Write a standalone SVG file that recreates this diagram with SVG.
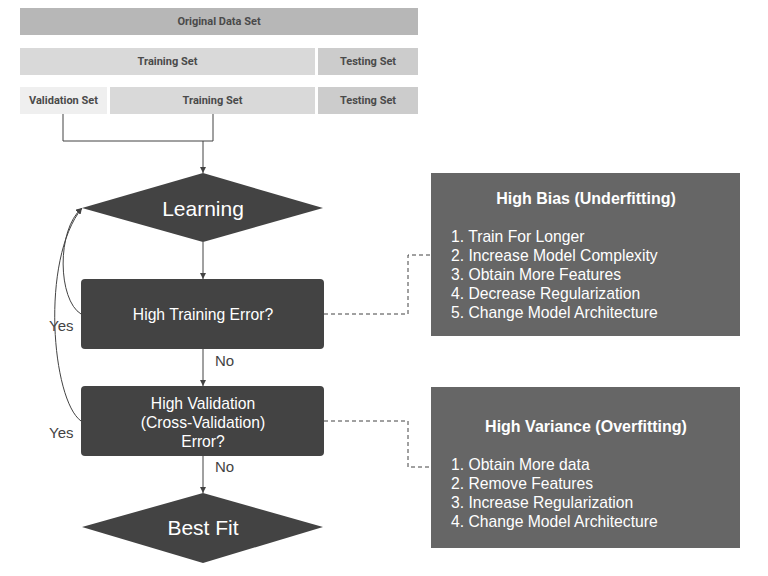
<svg xmlns="http://www.w3.org/2000/svg" width="768" height="576" viewBox="0 0 768 576">
<style>
.bar{font-family:Roboto,"Liberation Sans",Arial,sans-serif;font-size:11px;font-weight:bold;fill:#4a4a4a;text-anchor:middle;dominant-baseline:central}
.wt{font-family:"Liberation Sans",Arial,sans-serif;fill:#ffffff;text-anchor:middle;dominant-baseline:central}
.lbl{font-family:"Liberation Sans",Arial,sans-serif;font-size:15px;fill:#434343;dominant-baseline:central}
.item{font-family:"Liberation Sans",Arial,sans-serif;font-size:15.7px;fill:#ffffff;dominant-baseline:central}
.dark{fill:#434343}
.line{fill:none;stroke:#434343;stroke-width:1}
.dash{fill:none;stroke:#434343;stroke-width:1;stroke-dasharray:4,3}
</style>
<defs>
<marker id="arr" viewBox="0 0 10 10" refX="10" refY="5" markerWidth="6" markerHeight="6" orient="auto" markerUnits="userSpaceOnUse">
<path d="M0,0 L10,5 L0,10 z" fill="#434343"/>
</marker>
</defs>
<rect width="768" height="576" fill="#ffffff"/>
<g id="original"><rect x="20" y="8" width="398" height="27" fill="#b7b7b7"/><text class="bar" x="219" y="21.5">Original Data Set</text></g>
<g id="training1"><rect x="20" y="48" width="295" height="27" fill="#d9d9d9"/><text class="bar" x="167.5" y="61.5">Training Set</text></g>
<g id="testing1"><rect x="318" y="48" width="100" height="27" fill="#cccccc"/><text class="bar" x="368" y="61.5">Testing Set</text></g>
<g id="validation"><rect x="20" y="87" width="87" height="27" fill="#efefef"/><text class="bar" x="63.5" y="100.5">Validation Set</text></g>
<g id="training2"><rect x="110" y="87" width="205" height="27" fill="#d9d9d9"/><text class="bar" x="212.5" y="100.5">Training Set</text></g>
<g id="testing2"><rect x="318" y="87" width="100" height="27" fill="#cccccc"/><text class="bar" x="368" y="100.5">Testing Set</text></g>
<g id="connectors">
<polyline class="line" points="63,114 63,141 213,141 213,114"/>
<line class="line" x1="203" y1="141" x2="203" y2="173" marker-end="url(#arr)"/>
<line class="line" x1="203" y1="242" x2="203" y2="279" marker-end="url(#arr)"/>
<line class="line" x1="203" y1="349" x2="203" y2="386" marker-end="url(#arr)"/>
<line class="line" x1="203" y1="456" x2="203" y2="493" marker-end="url(#arr)"/>
<path class="line" d="M81,314 C58,300 56,230 82,208" marker-end="url(#arr)"/>
<path class="line" d="M81,421 C52,400 40,260 82,208" marker-end="url(#arr)"/>
<polyline class="dash" points="324,314 408,314 408,255 431,255"/>
<polyline class="dash" points="324,421 408,421 408,467 431,467"/>
<text class="lbl" x="215" y="360">No</text>
<text class="lbl" x="215" y="466">No</text>
<text class="lbl" x="49" y="325">Yes</text>
<text class="lbl" x="49" y="432">Yes</text>
</g>
<g id="learning"><polygon class="dark" points="82,208 203,173 323,208 203,242"/><text class="wt" x="203" y="208" font-size="21">Learning</text></g>
<g id="trainerr"><rect class="dark" x="81" y="279" width="243" height="70" rx="4"/><text class="wt" x="203" y="314" font-size="15.7">High Training Error?</text></g>
<g id="valerr"><rect class="dark" x="81" y="386" width="243" height="70" rx="4"/><text class="wt" font-size="15.7"><tspan x="203" y="403">High Validation</tspan><tspan x="203" y="422">(Cross-Validation)</tspan><tspan x="203" y="441">Error?</tspan></text></g>
<g id="bestfit"><polygon class="dark" points="82,527 203,493 323,527 203,563"/><text class="wt" x="203" y="527" font-size="21">Best Fit</text></g>
<g id="bias"><rect x="431" y="173" width="309" height="163" fill="#666666"/>
<text class="wt" x="586" y="198" font-size="16" font-weight="bold">High Bias (Underfitting)</text>
<text class="item" x="451" y="236">1. Train For Longer</text>
<text class="item" x="451" y="255">2. Increase Model Complexity</text>
<text class="item" x="451" y="274">3. Obtain More Features</text>
<text class="item" x="451" y="293">4. Decrease Regularization</text>
<text class="item" x="451" y="312">5. Change Model Architecture</text>
</g>
<g id="variance"><rect x="431" y="387" width="309" height="161" fill="#666666"/>
<text class="wt" x="586" y="426" font-size="16" font-weight="bold">High Variance (Overfitting)</text>
<text class="item" x="451" y="464">1. Obtain More data</text>
<text class="item" x="451" y="483">2. Remove Features</text>
<text class="item" x="451" y="502">3. Increase Regularization</text>
<text class="item" x="451" y="521">4. Change Model Architecture</text>
</g>
</svg>
